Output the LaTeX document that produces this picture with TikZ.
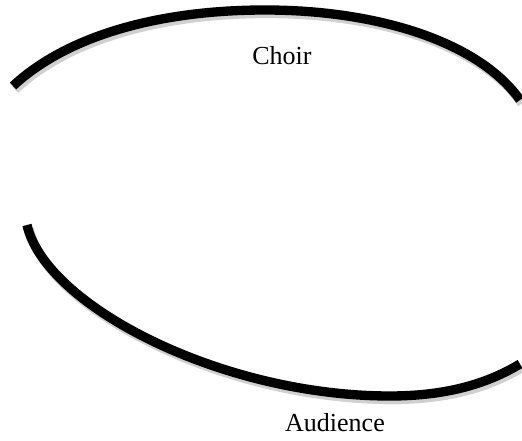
\documentclass[tikz,border=0pt]{standalone}
\usepackage{fontspec}
\setmainfont{Liberation Serif}
\usepackage{tikz}
\usetikzlibrary{positioning}
\definecolor{shade}{HTML}{D0D0D0}
\tikzset{
    rowarc/.style={draw=black, line width=7pt,
        preaction={draw=shade, line width=7pt, transform canvas={xshift=1.5pt, yshift=-2.6pt}}},
    label/.style={font=\fontsize{19.5}{23}\selectfont, anchor=base, inner sep=0pt}
}
\begin{document}
\begin{tikzpicture}[x=0.75pt, y=-0.75pt]
\useasboundingbox (0,0) rectangle (522,441);

% Arcs
\draw[rowarc] (13,86) .. controls (70,33) and (165,10) .. (265,10)
    .. controls (380,10) and (480,43) .. (520,100);
\draw[rowarc] (27,225) .. controls (45,305) and (220,396) .. (390,396)
    .. controls (450,396) and (490,382) .. (520,364);

% Labels
\node[label] (choir) at (282,65) {Choir};
\node[label] (audience) at (335,432) {Audience};

\end{tikzpicture}
\end{document}
